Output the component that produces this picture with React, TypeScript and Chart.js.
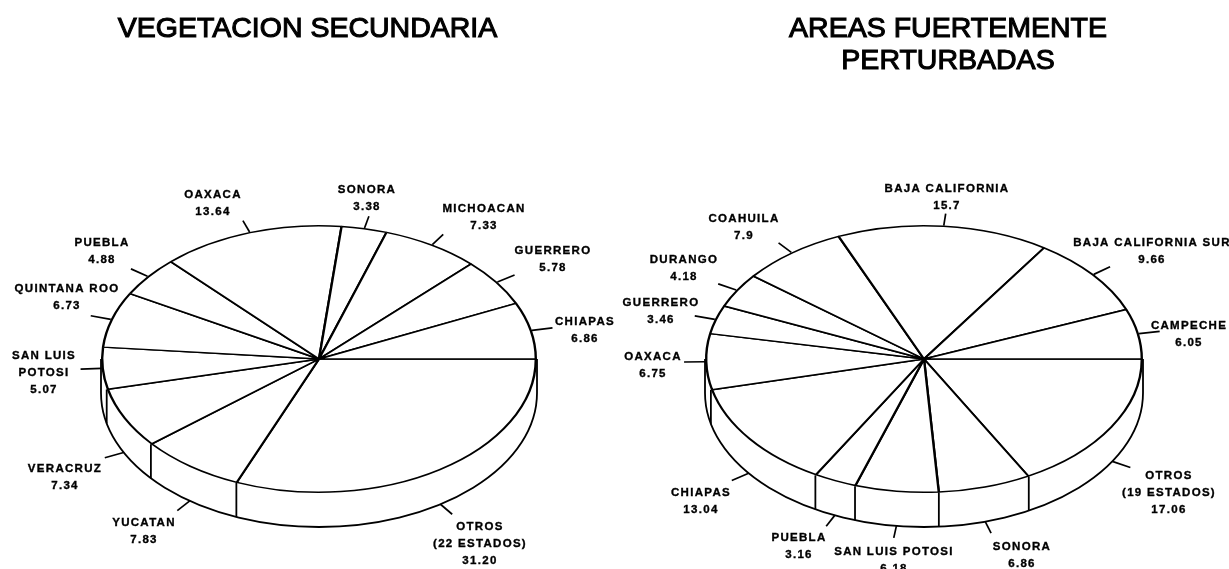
import React, { useEffect, useRef } from "react";
import { Chart, registerables } from "chart.js";

Chart.register(...registerables);

// Data, clockwise from the east edge of each pie
const leftCategories = ["OTROS\n(22 ESTADOS)", "YUCATAN", "VERACRUZ", "SAN LUIS\nPOTOSI", "QUINTANA ROO", "PUEBLA", "OAXACA", "SONORA", "MICHOACAN", "GUERRERO", "CHIAPAS"];
const leftValues = [31.2, 7.83, 7.34, 5.07, 6.73, 4.88, 13.64, 3.38, 7.33, 5.78, 6.86];
const leftValueText = ["31.20", "7.83", "7.34", "5.07", "6.73", "4.88", "13.64", "3.38", "7.33", "5.78", "6.86"];

const rightCategories = ["OTROS\n(19 ESTADOS)", "SONORA", "SAN LUIS POTOSI", "PUEBLA", "CHIAPAS", "OAXACA", "GUERRERO", "DURANGO", "COAHUILA", "BAJA CALIFORNIA", "BAJA CALIFORNIA SUR", "CAMPECHE"];
const rightValues = [17.06, 6.86, 6.18, 3.16, 13.04, 6.75, 3.46, 4.18, 7.9, 15.7, 9.66, 6.05];
const rightValueText = ["17.06", "6.86", "6.18", "3.16", "13.04", "6.75", "3.46", "4.18", "7.9", "15.7", "9.66", "6.05"];

const leftTitle = ["VEGETACION SECUNDARIA"];
const rightTitle = ["AREAS FUERTEMENTE", "PERTURBADAS"];

// Layout (page pixels relative to each canvas)
const CANVAS_W = [614, 615];
const CANVAS_H = 569;
const LINE_STEP = 16.8;
const TICK_X = 21;
const TICK_Y = 12;
const leftLayout = { cx: 319, cy: 359, rx: 218, ry: 134, depth: 34, titleX: 307.5, titleY: [37] };
const rightLayout = { cx: 310, cy: 359, rx: 219, ry: 134, depth: 34, titleX: 334, titleY: [37, 69] };
// centre x and first-line centre y of each label, same order as the data
const leftAnchors = [[480, 527], [144, 523], [65, 469], [44, 356], [67, 289], [102, 243], [213, 195], [367, 190], [484, 209], [553, 251], [585, 322]];
const rightAnchors = [[555, 476], [408, 547], [280, 552], [185, 538], [87, 493], [39, 357], [47, 303], [70, 260], [130, 219], [333, 189], [538, 243], [575, 326]];

type Layout = typeof leftLayout;

function makePlugin(layout: Layout, title: string[], anchors: number[][], valueText: string[]) {
  const { cx, cy, rx, ry, depth } = layout;
  return {
    id: "tiltedPie",
    beforeDatasetsDraw(chart: any) {
      const ctx = chart.ctx;
      const arcs = chart.getDatasetMeta(0).data;
      // Side wall
      ctx.save();
      ctx.strokeStyle = "#000";
      ctx.lineWidth = 1.8;
      ctx.fillStyle = "#fff";
      ctx.beginPath();
      ctx.moveTo(cx + rx, cy);
      ctx.lineTo(cx + rx, cy + depth);
      ctx.ellipse(cx, cy + depth, rx, ry, 0, 0, Math.PI);
      ctx.lineTo(cx - rx, cy);
      ctx.stroke();
      arcs.forEach((arc: any) => {
        const a = arc.endAngle;
        const s = Math.sin(a);
        if (s > 0.02) {
          const x = cx + rx * Math.cos(a);
          const y = cy + ry * s;
          ctx.beginPath();
          ctx.moveTo(x, y);
          ctx.lineTo(x, y + depth);
          ctx.stroke();
        }
      });
      ctx.restore();
      // Squash the pie into an ellipse
      const first = arcs[0];
      ctx.save();
      ctx.translate(cx - first.x, cy);
      ctx.scale(1, ry / rx);
      ctx.translate(0, -first.y);
    },
    afterDatasetsDraw(chart: any) {
      const ctx = chart.ctx;
      ctx.restore();
      const arcs = chart.getDatasetMeta(0).data;
      const labels = chart.data.labels as string[];
      ctx.save();
      ctx.strokeStyle = "#000";
      ctx.fillStyle = "#000";
      arcs.forEach((arc: any, i: number) => {
        const a = (arc.startAngle + arc.endAngle) / 2;
        const c = Math.cos(a);
        const s = Math.sin(a);
        const x = cx + rx * c;
        const y = cy + ry * s + (s > 0.1 ? depth : 0);
        ctx.lineWidth = 1.7;
        ctx.beginPath();
        ctx.moveTo(x, y);
        ctx.lineTo(x + c * TICK_X, y + s * TICK_Y);
        ctx.stroke();
        const lines = [...labels[i].split("\n"), valueText[i]];
        ctx.font = 'bold 11.5px "Liberation Sans"';
        ctx.letterSpacing = "1.3px";
        ctx.textAlign = "center";
        ctx.textBaseline = "middle";
        ctx.lineWidth = 0.35;
        lines.forEach((line, j) => {
          const ly = anchors[i][1] + j * LINE_STEP;
          ctx.fillText(line, anchors[i][0], ly);
          ctx.strokeText(line, anchors[i][0], ly);
        });
      });
      ctx.letterSpacing = "0px";
      ctx.font = '28.5px "Liberation Sans"';
      ctx.textAlign = "center";
      ctx.textBaseline = "alphabetic";
      ctx.lineWidth = 1.1;
      title.forEach((t, j) => {
        ctx.fillText(t, layout.titleX, layout.titleY[j]);
        ctx.strokeText(t, layout.titleX, layout.titleY[j]);
      });
      ctx.restore();
    },
  };
}

function buildChart(canvas: HTMLCanvasElement, width: number, layout: Layout, categories: string[], values: number[], valueText: string[], anchors: number[][], title: string[]) {
  return new Chart(canvas, {
    type: "pie",
    data: {
      labels: categories,
      datasets: [{ data: values, backgroundColor: "#ffffff", borderColor: "#000000", borderWidth: 2.4, hoverOffset: 0 }],
    },
    options: {
      responsive: false,
      animation: false,
      rotation: 90,
      layout: { padding: { left: layout.cx - layout.rx, right: width - layout.cx - layout.rx, top: 0, bottom: 0 } },
      plugins: { legend: { display: false }, tooltip: { enabled: false }, title: { display: false } },
    },
    plugins: [makePlugin(layout, title, anchors, valueText)],
  } as any);
}

export default function App() {
  const leftRef = useRef<HTMLCanvasElement>(null);
  const rightRef = useRef<HTMLCanvasElement>(null);
  useEffect(() => {
    const a = buildChart(leftRef.current!, CANVAS_W[0], leftLayout, leftCategories, leftValues, leftValueText, leftAnchors, leftTitle);
    const b = buildChart(rightRef.current!, CANVAS_W[1], rightLayout, rightCategories, rightValues, rightValueText, rightAnchors, rightTitle);
    return () => {
      a.destroy();
      b.destroy();
    };
  }, []);
  return (
    <div style={{ position: "absolute", left: 0, top: 0, width: 1229, height: 569, overflow: "hidden", background: "#fff" }}>
      <canvas ref={leftRef} width={CANVAS_W[0]} height={CANVAS_H} style={{ position: "absolute", left: 0, top: 0 }} />
      <canvas ref={rightRef} width={CANVAS_W[1]} height={CANVAS_H} style={{ position: "absolute", left: 614, top: 0 }} />
    </div>
  );
}
